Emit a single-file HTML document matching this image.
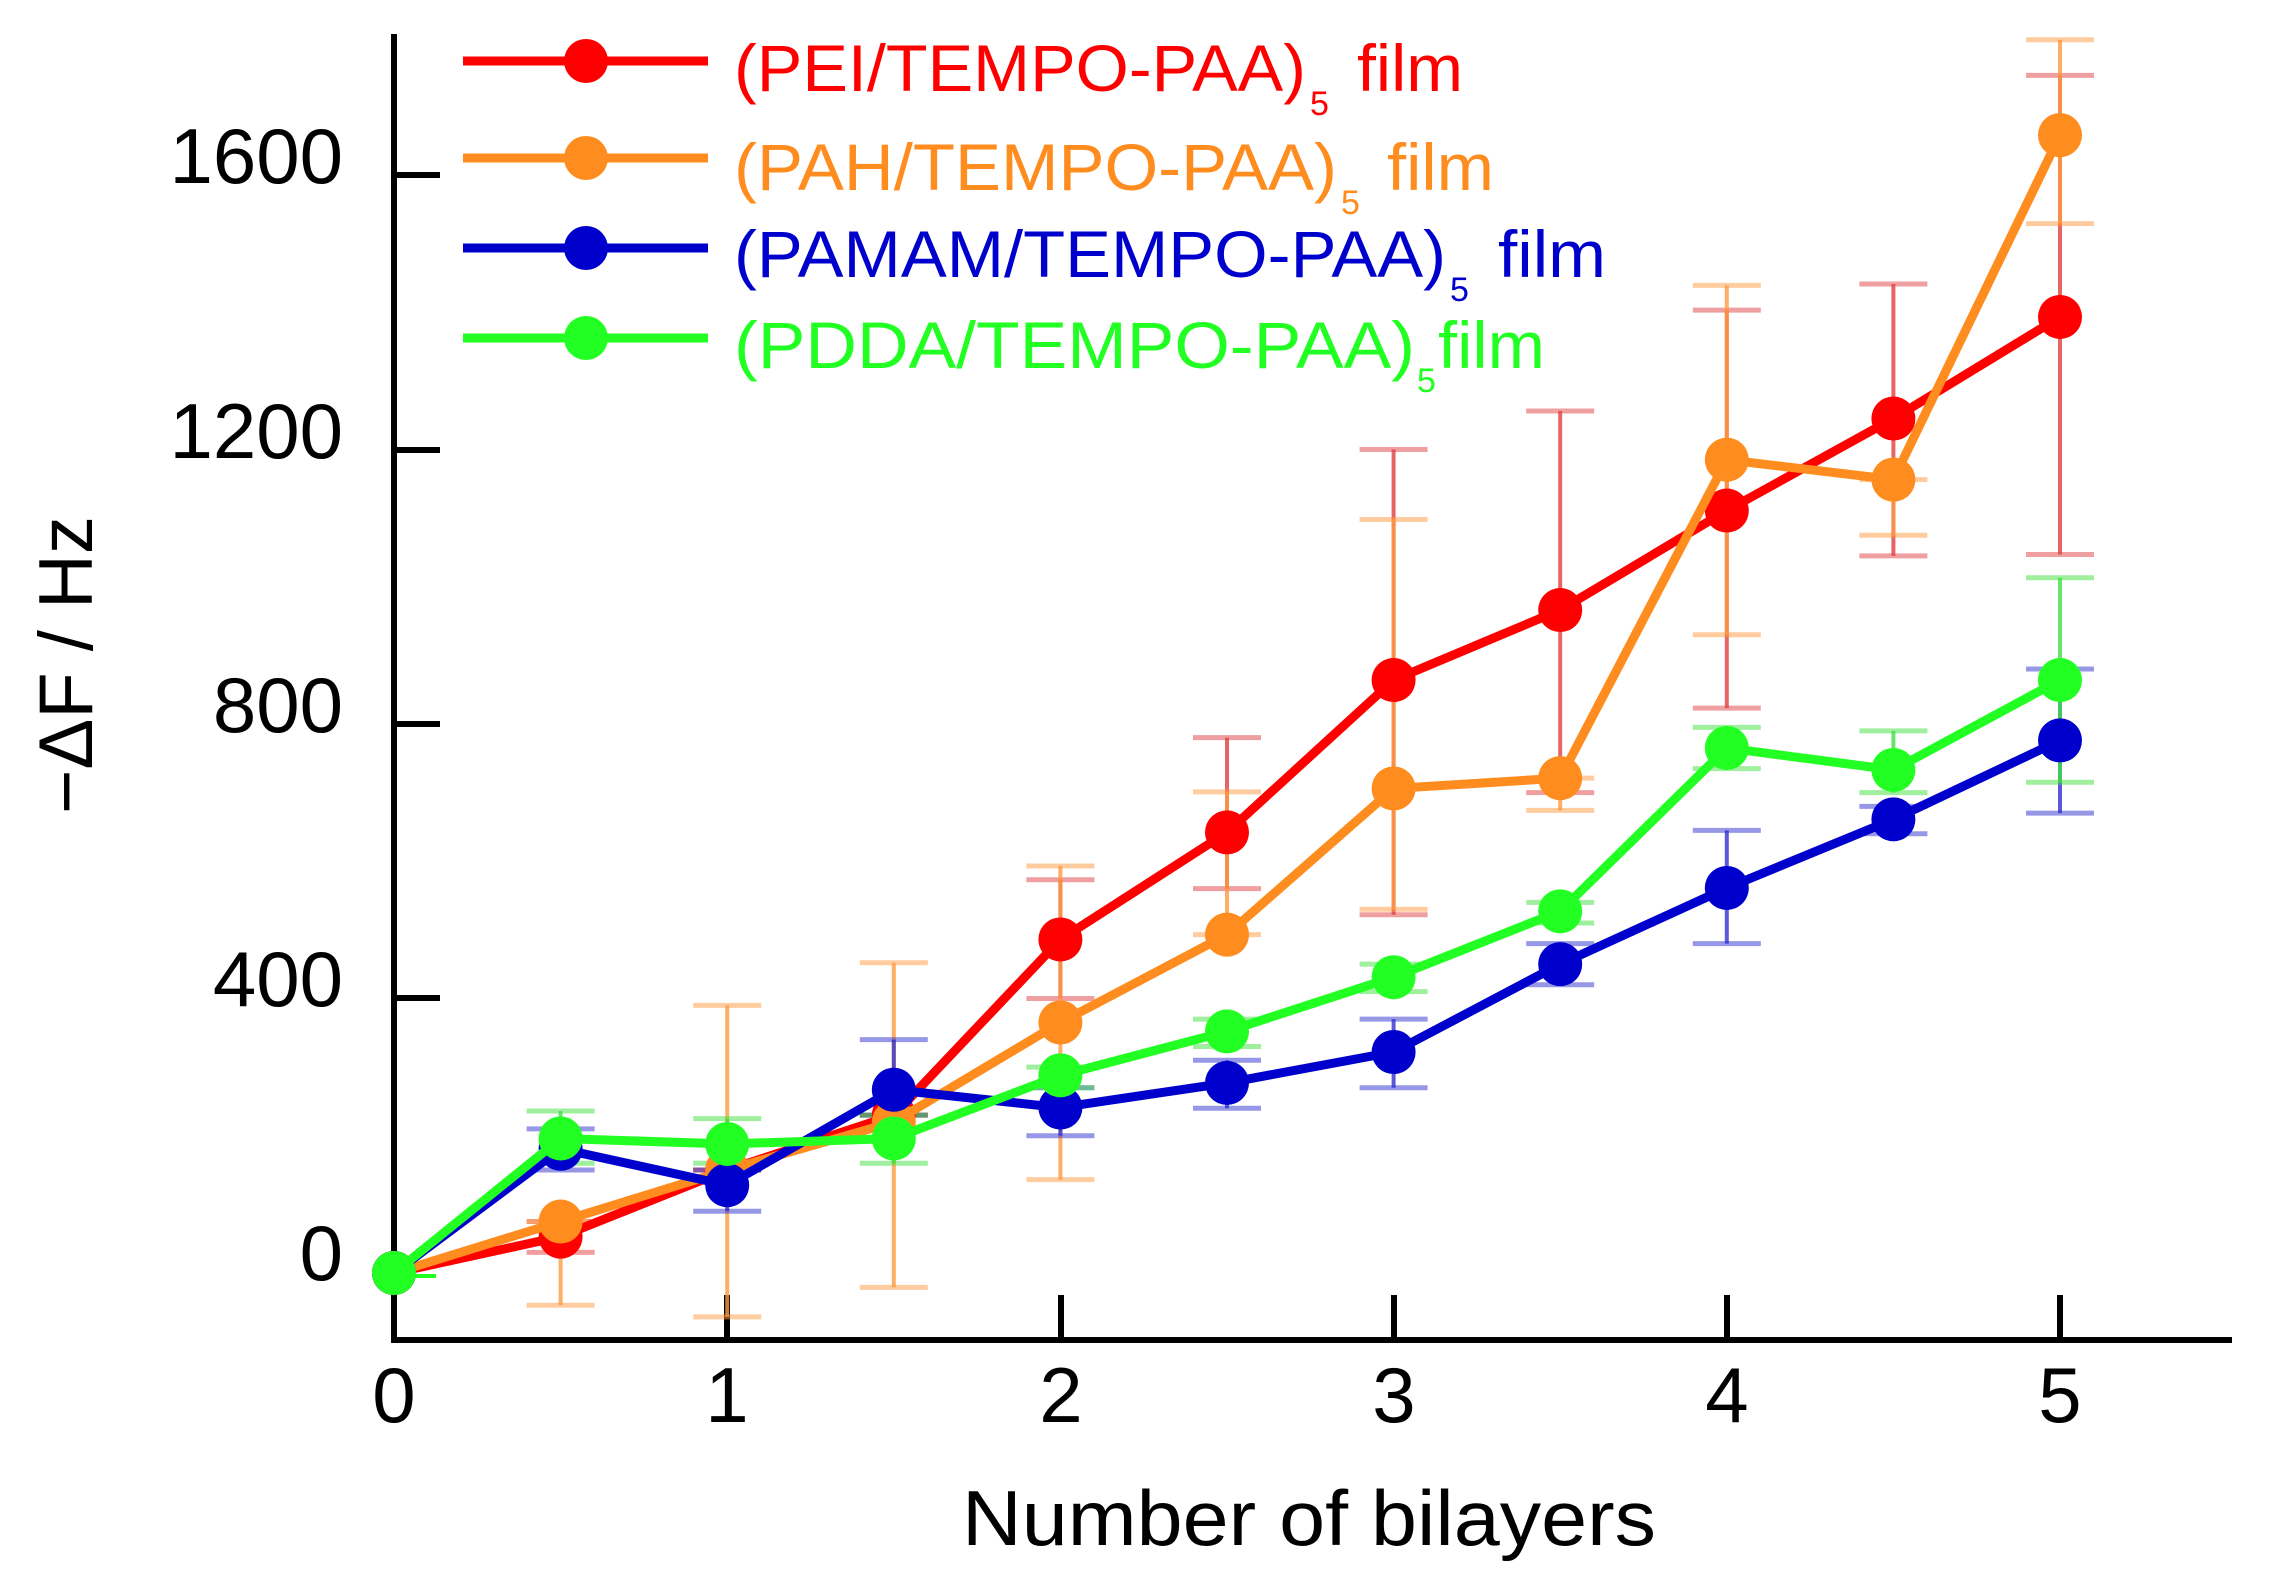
<!DOCTYPE html>
<html><head><meta charset="utf-8"><style>html,body{margin:0;padding:0;background:#fff}svg{display:block}</style></head>
<body>
<svg width="2278" height="1588" viewBox="0 0 2278 1588" xmlns="http://www.w3.org/2000/svg" font-family="Liberation Sans, Arial, sans-serif">
<rect width="2278" height="1588" fill="#fff"/>
<line x1="394" y1="34" x2="394" y2="1342" stroke="#000" stroke-width="6"/>
<line x1="391" y1="1340" x2="2232" y2="1340" stroke="#000" stroke-width="6"/>
<g stroke="#000" stroke-width="6">
<line x1="394" y1="175" x2="440" y2="175"/><line x1="394" y1="450" x2="440" y2="450"/>
<line x1="394" y1="724" x2="440" y2="724"/><line x1="394" y1="998" x2="440" y2="998"/>
<line x1="727" y1="1340" x2="727" y2="1295"/><line x1="1061" y1="1340" x2="1061" y2="1295"/>
<line x1="1394" y1="1340" x2="1394" y2="1295"/><line x1="1727" y1="1340" x2="1727" y2="1295"/>
<line x1="2060" y1="1340" x2="2060" y2="1295"/>
</g>
<g font-size="78" fill="#000" text-anchor="end">
<text x="343" y="183">1600</text><text x="343" y="458">1200</text>
<text x="343" y="732">800</text><text x="343" y="1006">400</text><text x="343" y="1280">0</text>
</g>
<g font-size="78" fill="#000" text-anchor="middle">
<text x="394" y="1422">0</text><text x="727" y="1422">1</text><text x="1061" y="1422">2</text>
<text x="1394" y="1422">3</text><text x="1727" y="1422">4</text><text x="2060" y="1422">5</text>
</g>
<text x="1309" y="1545" font-size="78" text-anchor="middle" textLength="694" lengthAdjust="spacingAndGlyphs">Number of bilayers</text>
<text transform="translate(92,665) rotate(-90)" font-size="76" text-anchor="middle">−ΔF / Hz</text>

<g id="plot"></g>

<g stroke-width="9">
<line x1="463" y1="61" x2="708" y2="61" stroke="#ff0000"/><circle cx="586" cy="61" r="22" fill="#ff0000"/>
<line x1="463" y1="158" x2="708" y2="158" stroke="#ff8c1e"/><circle cx="586" cy="158" r="22" fill="#ff8c1e"/>
<line x1="463" y1="248" x2="708" y2="248" stroke="#0000cc"/><circle cx="586" cy="248" r="22" fill="#0000cc"/>
<line x1="463" y1="338" x2="708" y2="338" stroke="#22ff22"/><circle cx="586" cy="338" r="22" fill="#22ff22"/>
</g>
<g font-size="66">
<text x="734" y="91" fill="#ff0000" textLength="572" lengthAdjust="spacingAndGlyphs">(PEI/TEMPO-PAA)</text>
<text x="1310" y="115" fill="#ff0000" font-size="34">5</text>
<text x="1357" y="91" fill="#ff0000" textLength="106" lengthAdjust="spacingAndGlyphs">film</text>
<text x="734" y="190" fill="#ff8c1e" textLength="603" lengthAdjust="spacingAndGlyphs">(PAH/TEMPO-PAA)</text>
<text x="1341" y="214" fill="#ff8c1e" font-size="34">5</text>
<text x="1387" y="190" fill="#ff8c1e" textLength="107" lengthAdjust="spacingAndGlyphs">film</text>
<text x="734" y="277" fill="#0000cc" textLength="712" lengthAdjust="spacingAndGlyphs">(PAMAM/TEMPO-PAA)</text>
<text x="1450" y="301" fill="#0000cc" font-size="34">5</text>
<text x="1498" y="277" fill="#0000cc" textLength="108" lengthAdjust="spacingAndGlyphs">film</text>
<text x="734" y="368" fill="#22ff22" textLength="681" lengthAdjust="spacingAndGlyphs">(PDDA/TEMPO-PAA)</text>
<text x="1417" y="392" fill="#22ff22" font-size="34">5</text>
<text x="1438" y="368" fill="#22ff22" textLength="107" lengthAdjust="spacingAndGlyphs">film</text>
</g>

<script>
(function(){
var NS="http://www.w3.org/2000/svg";
function X(b){return 394+b*333.2;}
function Y(v){return 1273-v*0.6863;}
var xs=[0,0.5,1,1.5,2,2.5,3,3.5,4,4.5,5];
var S=[
 {c:"#ff0000",e:"#e04040",v:[0,53,150,230,486,642,864,966,1111,1245,1393],
  t:[0,75,150,230,573,780,1200,1256,1403,1441,1745],b:[0,30,150,230,400,560,522,700,823,1045,1047]},
 {c:"#ff8c1e",e:"#ff9a40",v:[0,75,150,220,365,493,706,721,1185,1156,1658],
  t:[0,75,390,452,593,701,1098,721,1439,1156,1797],b:[0,-47,-64,-21,136,493,530,674,930,1075,1529]},
 {c:"#0000cc",e:"#3030d0",v:[0,181,128,267,241,277,322,450,561,661,776],
  t:[0,210,150,340,270,310,370,480,645,680,880],b:[0,150,90,230,200,240,270,420,480,640,670]},
 {c:"#22ff22",e:"#40e040",v:[0,196,188,196,288,352,431,527,765,733,864],
  t:[0,236,225,230,300,370,450,540,795,790,1013],b:[0,160,160,160,270,330,410,510,735,700,715]}
];
var g=document.getElementById("plot");
function el(n,a){var e=document.createElementNS(NS,n);for(var k in a)e.setAttribute(k,a[k]);g.appendChild(e);return e;}
S.forEach(function(s){
 xs.forEach(function(b,i){
  if(i==0)return;
  var x=X(b),t=Y(s.t[i]),bo=Y(s.b[i]);
  el("line",{x1:x,y1:t,x2:x,y2:bo,stroke:s.e,"stroke-width":4,"stroke-opacity":0.8});
  el("line",{x1:x-34,y1:t,x2:x+34,y2:t,stroke:s.e,"stroke-width":5,"stroke-opacity":0.5});
  el("line",{x1:x-34,y1:bo,x2:x+34,y2:bo,stroke:s.e,"stroke-width":5,"stroke-opacity":0.5});
 });
});
S.forEach(function(s){
 var p=xs.map(function(b,i){return X(b)+","+Y(s.v[i]);}).join(" ");
 el("polyline",{points:p,fill:"none",stroke:s.c,"stroke-width":9,"stroke-linejoin":"round"});
 xs.forEach(function(b,i){el("circle",{cx:X(b),cy:Y(s.v[i]),r:22,fill:s.c});});
});
el("line",{x1:400,y1:1276,x2:436,y2:1276,stroke:"#22ff22","stroke-width":4});
})();
</script>
</svg>
</body></html>
